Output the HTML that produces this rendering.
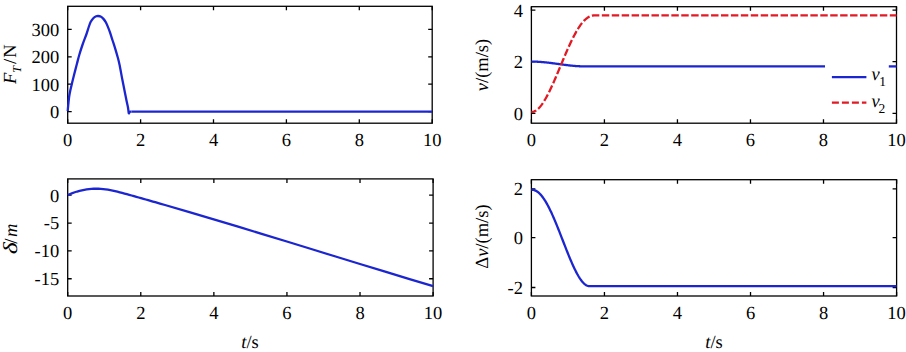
<!DOCTYPE html>
<html><head><meta charset="utf-8"><style>
html,body{margin:0;padding:0;background:#fff;}
svg{display:block;}
text{font-family:"Liberation Serif",serif;font-size:18.5px;fill:#000;text-rendering:geometricPrecision;}
.ax{fill:none;stroke:#000;stroke-width:1.3;}
.tk{fill:none;stroke:#000;stroke-width:1.3;}
.bl{fill:none;stroke:#1c26d0;stroke-width:2.3;stroke-linejoin:round;stroke-linecap:butt;}
.rd{fill:none;stroke:#e21a24;stroke-width:2.3;stroke-dasharray:7 3;stroke-linejoin:round;}
</style></head><body>
<svg width="906" height="352" viewBox="0 0 906 352">
<rect x="67.70" y="6.30" width="364.50" height="116.90" class="ax"/>
<path d="M67.70 123.20 v-4 M67.70 6.30 v4" class="tk"/>
<text x="67.70" y="145.70" text-anchor="middle">0</text>
<path d="M140.60 123.20 v-4 M140.60 6.30 v4" class="tk"/>
<text x="140.60" y="145.70" text-anchor="middle">2</text>
<path d="M213.50 123.20 v-4 M213.50 6.30 v4" class="tk"/>
<text x="213.50" y="145.70" text-anchor="middle">4</text>
<path d="M286.40 123.20 v-4 M286.40 6.30 v4" class="tk"/>
<text x="286.40" y="145.70" text-anchor="middle">6</text>
<path d="M359.30 123.20 v-4 M359.30 6.30 v4" class="tk"/>
<text x="359.30" y="145.70" text-anchor="middle">8</text>
<path d="M432.20 123.20 v-4 M432.20 6.30 v4" class="tk"/>
<text x="432.20" y="145.70" text-anchor="middle">10</text>
<path d="M67.70 111.60 h4 M432.20 111.60 h-4" class="tk"/>
<text x="59.20" y="117.90" text-anchor="end">0</text>
<path d="M67.70 84.20 h4 M432.20 84.20 h-4" class="tk"/>
<text x="59.20" y="90.50" text-anchor="end">100</text>
<path d="M67.70 56.80 h4 M432.20 56.80 h-4" class="tk"/>
<text x="59.20" y="63.10" text-anchor="end">200</text>
<path d="M67.70 29.40 h4 M432.20 29.40 h-4" class="tk"/>
<text x="59.20" y="35.70" text-anchor="end">300</text>
<path d="M67.70,111.20 C67.73,110.75 67.80,109.62 67.90,108.50 C68.00,107.38 68.10,106.42 68.30,104.50 C68.50,102.58 68.77,99.33 69.10,97.00 C69.43,94.67 69.88,92.50 70.30,90.50 C70.72,88.50 71.00,87.50 71.60,85.00 C72.20,82.50 73.00,79.08 73.90,75.50 C74.80,71.92 76.08,67.00 77.00,63.50 C77.92,60.00 78.47,57.67 79.40,54.50 C80.33,51.33 81.42,47.92 82.60,44.50 C83.78,41.08 85.50,36.83 86.50,34.00 C87.50,31.17 87.92,29.50 88.60,27.50 C89.28,25.50 89.82,23.55 90.60,22.00 C91.38,20.45 92.37,19.15 93.30,18.20 C94.23,17.25 95.38,16.67 96.20,16.30 C97.02,15.93 97.47,15.95 98.20,16.00 C98.93,16.05 99.77,16.17 100.60,16.60 C101.43,17.03 102.37,17.72 103.20,18.60 C104.03,19.48 104.83,20.57 105.60,21.90 C106.37,23.23 107.07,24.85 107.80,26.60 C108.53,28.35 109.20,30.08 110.00,32.40 C110.80,34.72 111.73,37.80 112.60,40.50 C113.47,43.20 114.35,45.82 115.20,48.60 C116.05,51.38 116.97,54.47 117.70,57.20 C118.43,59.93 118.87,61.47 119.60,65.00 C120.33,68.53 121.27,74.07 122.10,78.40 C122.93,82.73 123.83,87.15 124.60,91.00 C125.37,94.85 126.13,98.75 126.70,101.50 C127.27,104.25 127.65,105.53 128.00,107.50 C128.35,109.47 128.50,112.60 128.80,113.30 C129.10,114.00 129.35,111.98 129.80,111.70 C130.25,111.42 131.22,111.62 131.50,111.60" class="bl"/>
<path d="M131.5 111.6 H432" class="bl"/>
<rect x="531.40" y="6.70" width="365.10" height="116.50" class="ax"/>
<path d="M531.40 123.20 v-4 M531.40 6.70 v4" class="tk"/>
<text x="531.40" y="145.70" text-anchor="middle">0</text>
<path d="M604.42 123.20 v-4 M604.42 6.70 v4" class="tk"/>
<text x="604.42" y="145.70" text-anchor="middle">2</text>
<path d="M677.44 123.20 v-4 M677.44 6.70 v4" class="tk"/>
<text x="677.44" y="145.70" text-anchor="middle">4</text>
<path d="M750.46 123.20 v-4 M750.46 6.70 v4" class="tk"/>
<text x="750.46" y="145.70" text-anchor="middle">6</text>
<path d="M823.48 123.20 v-4 M823.48 6.70 v4" class="tk"/>
<text x="823.48" y="145.70" text-anchor="middle">8</text>
<path d="M896.50 123.20 v-4 M896.50 6.70 v4" class="tk"/>
<text x="896.50" y="145.70" text-anchor="middle">10</text>
<path d="M531.40 113.30 h4 M896.50 113.30 h-4" class="tk"/>
<text x="522.90" y="119.60" text-anchor="end">0</text>
<path d="M531.40 61.70 h4 M896.50 61.70 h-4" class="tk"/>
<text x="522.90" y="68.00" text-anchor="end">2</text>
<path d="M531.40 10.20 h4 M896.50 10.20 h-4" class="tk"/>
<text x="522.90" y="16.50" text-anchor="end">4</text>
<path d="M531.40,61.60 L531.98,61.60 L532.55,61.60 L533.13,61.61 L533.71,61.62 L534.28,61.63 L534.86,61.65 L535.44,61.67 L536.01,61.69 L536.59,61.71 L537.16,61.74 L537.74,61.76 L538.32,61.80 L538.89,61.83 L539.47,61.87 L540.05,61.90 L540.62,61.95 L541.20,61.99 L541.78,62.03 L542.35,62.08 L542.93,62.13 L543.51,62.18 L544.08,62.24 L544.66,62.29 L545.24,62.35 L545.81,62.41 L546.39,62.47 L546.96,62.54 L547.54,62.60 L548.12,62.67 L548.69,62.73 L549.27,62.80 L549.85,62.87 L550.42,62.94 L551.00,63.01 L551.58,63.09 L552.15,63.16 L552.73,63.24 L553.31,63.31 L553.88,63.39 L554.46,63.46 L555.04,63.54 L555.61,63.62 L556.19,63.70 L556.76,63.78 L557.34,63.85 L557.92,63.93 L558.49,64.01 L559.07,64.09 L559.65,64.17 L560.22,64.25 L560.80,64.33 L561.38,64.41 L561.95,64.48 L562.53,64.56 L563.11,64.64 L563.68,64.71 L564.26,64.79 L564.84,64.86 L565.41,64.94 L565.99,65.01 L566.56,65.08 L567.14,65.15 L567.72,65.22 L568.29,65.29 L568.87,65.36 L569.45,65.42 L570.02,65.49 L570.60,65.55 L571.18,65.61 L571.75,65.67 L572.33,65.72 L572.91,65.78 L573.48,65.83 L574.06,65.88 L574.64,65.93 L575.21,65.98 L575.79,66.03 L576.36,66.07 L576.94,66.11 L577.52,66.15 L578.09,66.18 L578.67,66.21 L579.25,66.25 L579.82,66.27 L580.40,66.30 L580.98,66.32 L581.55,66.34 L582.13,66.36 L582.71,66.37 L583.28,66.38 L583.86,66.39 L584.44,66.40 L585.01,66.40 L585.59,66.40 L586.16,66.40 L586.74,66.40 L587.32,66.40 L587.89,66.40 L588.47,66.40 L589.05,66.40 L589.62,66.40 L590.20,66.40 L590.78,66.40 L591.35,66.40 L591.93,66.40 L592.51,66.40 L593.08,66.40 L593.66,66.40 L594.24,66.40 L594.81,66.40 L595.39,66.40 L595.96,66.40 L596.54,66.40 L597.12,66.40 L597.69,66.40 L598.27,66.40 L598.85,66.40 L599.42,66.40 L600.00,66.40 L825.00,66.40" class="bl"/>
<path d="M888.8 66.4 H896.5" class="bl"/>
<path d="M531.40,112.00 L531.98,111.97 L532.55,111.91 L533.13,111.80 L533.71,111.63 L534.28,111.42 L534.86,111.17 L535.44,110.86 L536.01,110.51 L536.59,110.11 L537.16,109.67 L537.74,109.18 L538.32,108.65 L538.89,108.08 L539.47,107.47 L540.05,106.81 L540.62,106.12 L541.20,105.38 L541.78,104.61 L542.35,103.80 L542.93,102.96 L543.51,102.08 L544.08,101.17 L544.66,100.22 L545.24,99.25 L545.81,98.25 L546.39,97.21 L546.96,96.15 L547.54,95.06 L548.12,93.95 L548.69,92.81 L549.27,91.65 L549.85,90.47 L550.42,89.26 L551.00,88.04 L551.58,86.80 L552.15,85.54 L552.73,84.27 L553.31,82.97 L553.88,81.67 L554.46,80.35 L555.04,79.02 L555.61,77.68 L556.19,76.34 L556.76,74.98 L557.34,73.61 L557.92,72.24 L558.49,70.87 L559.07,69.49 L559.65,68.11 L560.22,66.73 L560.80,65.34 L561.38,63.96 L561.95,62.58 L562.53,61.20 L563.11,59.82 L563.68,58.45 L564.26,57.09 L564.84,55.73 L565.41,54.38 L565.99,53.04 L566.56,51.71 L567.14,50.39 L567.72,49.08 L568.29,47.79 L568.87,46.51 L569.45,45.24 L570.02,43.99 L570.60,42.76 L571.18,41.55 L571.75,40.35 L572.33,39.17 L572.91,38.01 L573.48,36.88 L574.06,35.77 L574.64,34.67 L575.21,33.61 L575.79,32.57 L576.36,31.55 L576.94,30.56 L577.52,29.59 L578.09,28.66 L578.67,27.75 L579.25,26.87 L579.82,26.02 L580.40,25.19 L580.98,24.40 L581.55,23.65 L582.13,22.92 L582.71,22.22 L583.28,21.56 L583.86,20.93 L584.44,20.34 L585.01,19.78 L585.59,19.25 L586.16,18.76 L586.74,18.30 L587.32,17.87 L587.89,17.48 L588.47,17.13 L589.05,16.81 L589.62,16.52 L590.20,16.27 L590.78,16.06 L591.35,15.87 L591.93,15.72 L592.51,15.60 L593.08,15.51 L593.66,15.45 L594.24,15.41 L594.81,15.40 L595.39,15.40 L595.96,15.40 L596.54,15.40 L597.12,15.40 L597.69,15.40 L598.27,15.40 L598.85,15.40 L599.42,15.40 L600.00,15.40 L896.50,15.40" class="rd" style="stroke-dasharray:7.45 2.48;stroke-dashoffset:2.25"/>
<path d="M831.9 77.2 H866.4" class="bl"/>
<path d="M831.9 102.7 H866.4" class="rd"/>
<text x="871.4" y="80.2" font-style="italic">v</text><text x="879.2" y="85.6" style="font-size:13.5px">1</text>
<text x="871.4" y="106.6" font-style="italic">v</text><text x="878.5" y="112.6" style="font-size:13.5px">2</text>
<rect x="67.70" y="178.90" width="365.40" height="117.10" class="ax"/>
<path d="M67.70 296.00 v-4 M67.70 178.90 v4" class="tk"/>
<text x="67.70" y="318.50" text-anchor="middle">0</text>
<path d="M140.78 296.00 v-4 M140.78 178.90 v4" class="tk"/>
<text x="140.78" y="318.50" text-anchor="middle">2</text>
<path d="M213.86 296.00 v-4 M213.86 178.90 v4" class="tk"/>
<text x="213.86" y="318.50" text-anchor="middle">4</text>
<path d="M286.94 296.00 v-4 M286.94 178.90 v4" class="tk"/>
<text x="286.94" y="318.50" text-anchor="middle">6</text>
<path d="M360.02 296.00 v-4 M360.02 178.90 v4" class="tk"/>
<text x="360.02" y="318.50" text-anchor="middle">8</text>
<path d="M433.10 296.00 v-4 M433.10 178.90 v4" class="tk"/>
<text x="433.10" y="318.50" text-anchor="middle">10</text>
<path d="M67.70 195.20 h4 M433.10 195.20 h-4" class="tk"/>
<text x="59.20" y="201.50" text-anchor="end">0</text>
<path d="M67.70 223.05 h4 M433.10 223.05 h-4" class="tk"/>
<text x="59.20" y="229.35" text-anchor="end">-5</text>
<path d="M67.70 250.90 h4 M433.10 250.90 h-4" class="tk"/>
<text x="59.20" y="257.20" text-anchor="end">-10</text>
<path d="M67.70 278.75 h4 M433.10 278.75 h-4" class="tk"/>
<text x="59.20" y="285.05" text-anchor="end">-15</text>
<path d="M67.70,194.96 L70.07,193.98 L72.43,193.08 L74.80,192.26 L77.17,191.52 L79.53,190.87 L81.90,190.30 L84.27,189.82 L86.63,189.42 L89.00,189.11 L91.37,188.88 L93.73,188.75 L96.10,188.70 L98.47,188.73 L100.83,188.86 L103.20,189.07 L105.57,189.35 L107.93,189.71 L110.30,190.12 L112.67,190.59 L115.03,191.11 L117.40,191.67 L119.77,192.26 L122.13,192.88 L124.50,193.53 L126.87,194.18 L129.23,194.84 L131.60,195.50 L133.97,196.17 L136.33,196.83 L138.70,197.50 L141.07,198.17 L143.43,198.84 L145.80,199.51 L148.17,200.18 L150.53,200.86 L152.90,201.53 L155.27,202.21 L157.63,202.89 L160.00,203.57 L165.00,205.01 L189.37,212.12 L213.75,219.34 L238.12,226.66 L262.49,234.06 L286.86,241.51 L311.24,249.00 L335.61,256.50 L359.98,263.99 L384.35,271.45 L408.73,278.86 L433.10,286.20" class="bl"/>
<rect x="531.40" y="179.70" width="365.20" height="116.30" class="ax"/>
<path d="M531.40 296.00 v-4 M531.40 179.70 v4" class="tk"/>
<text x="531.40" y="318.50" text-anchor="middle">0</text>
<path d="M604.44 296.00 v-4 M604.44 179.70 v4" class="tk"/>
<text x="604.44" y="318.50" text-anchor="middle">2</text>
<path d="M677.48 296.00 v-4 M677.48 179.70 v4" class="tk"/>
<text x="677.48" y="318.50" text-anchor="middle">4</text>
<path d="M750.52 296.00 v-4 M750.52 179.70 v4" class="tk"/>
<text x="750.52" y="318.50" text-anchor="middle">6</text>
<path d="M823.56 296.00 v-4 M823.56 179.70 v4" class="tk"/>
<text x="823.56" y="318.50" text-anchor="middle">8</text>
<path d="M896.60 296.00 v-4 M896.60 179.70 v4" class="tk"/>
<text x="896.60" y="318.50" text-anchor="middle">10</text>
<path d="M531.40 287.50 h4 M896.60 287.50 h-4" class="tk"/>
<text x="522.90" y="293.80" text-anchor="end">-2</text>
<path d="M531.40 237.70 h4 M896.60 237.70 h-4" class="tk"/>
<text x="522.90" y="244.00" text-anchor="end">0</text>
<path d="M531.40 188.90 h4 M896.60 188.90 h-4" class="tk"/>
<text x="522.90" y="195.20" text-anchor="end">2</text>
<path d="M531.40,189.72 L531.98,189.73 L532.55,189.77 L533.13,189.85 L533.71,189.97 L534.28,190.13 L534.86,190.33 L535.44,190.57 L536.01,190.86 L536.59,191.18 L537.16,191.55 L537.74,191.96 L538.32,192.41 L538.89,192.91 L539.47,193.44 L540.05,194.02 L540.62,194.64 L541.20,195.29 L541.78,195.99 L542.35,196.72 L542.93,197.50 L543.51,198.31 L544.08,199.15 L544.66,200.04 L545.24,200.95 L545.81,201.90 L546.39,202.89 L546.96,203.90 L547.54,204.95 L548.12,206.03 L548.69,207.14 L549.27,208.28 L549.85,209.44 L550.42,210.63 L551.00,211.85 L551.58,213.09 L552.15,214.35 L552.73,215.64 L553.31,216.94 L553.88,218.27 L554.46,219.62 L555.04,220.98 L555.61,222.36 L556.19,223.76 L556.76,225.17 L557.34,226.59 L557.92,228.02 L558.49,229.47 L559.07,230.92 L559.65,232.38 L560.22,233.85 L560.80,235.33 L561.38,236.80 L561.95,238.29 L562.53,239.77 L563.11,241.25 L563.68,242.74 L564.26,244.22 L564.84,245.69 L565.41,247.17 L565.99,248.63 L566.56,250.09 L567.14,251.54 L567.72,252.98 L568.29,254.40 L568.87,255.82 L569.45,257.22 L570.02,258.60 L570.60,259.97 L571.18,261.32 L571.75,262.65 L572.33,263.95 L572.91,265.24 L573.48,266.50 L574.06,267.73 L574.64,268.94 L575.21,270.11 L575.79,271.26 L576.36,272.38 L576.94,273.46 L577.52,274.51 L578.09,275.53 L578.67,276.51 L579.25,277.44 L579.82,278.34 L580.40,279.20 L580.98,280.01 L581.55,280.78 L582.13,281.51 L582.71,282.18 L583.28,282.81 L583.86,283.39 L584.44,283.92 L585.01,284.39 L585.59,284.81 L586.16,285.17 L586.74,285.48 L587.32,285.73 L587.89,285.91 L588.47,286.04 L589.05,286.11 L589.62,286.12 L590.20,286.12 L590.78,286.12 L591.35,286.12 L591.93,286.12 L592.51,286.12 L593.08,286.12 L593.66,286.12 L594.24,286.12 L594.81,286.12 L595.39,286.12 L595.96,286.12 L596.54,286.12 L597.12,286.12 L597.69,286.12 L598.27,286.12 L598.85,286.12 L599.42,286.12 L600.00,286.12 L896.50,286.12" class="bl"/>
<text x="250" y="347.5" text-anchor="middle"><tspan font-style="italic">t</tspan>/s</text>
<text x="714" y="347.5" text-anchor="middle"><tspan font-style="italic">t</tspan>/s</text>
<g transform="translate(16.3 65.3) rotate(-90)"><text x="-18.6" y="0" font-style="italic">F</text><text x="-7.4" y="4.7" font-style="italic" style="font-size:12px">T</text><text x="1.3" y="0">/</text><text x="7.6" y="0">N</text></g>
<text transform="translate(488.00 65.00) rotate(-90)" text-anchor="middle"><tspan font-style="italic">v</tspan>/(m/s)</text>
<g transform="translate(16.6 237.5) rotate(-90)"><text x="-12.0" y="0" font-style="italic" transform="scale(1.4 1.08)">δ</text><text x="-6.2" y="0">/</text><text x="0.6" y="0" font-style="italic">m</text></g>
<text transform="translate(488.00 236.60) rotate(-90)" text-anchor="middle">Δ<tspan font-style="italic">v</tspan>/(m/s)</text>
</svg>
</body></html>
